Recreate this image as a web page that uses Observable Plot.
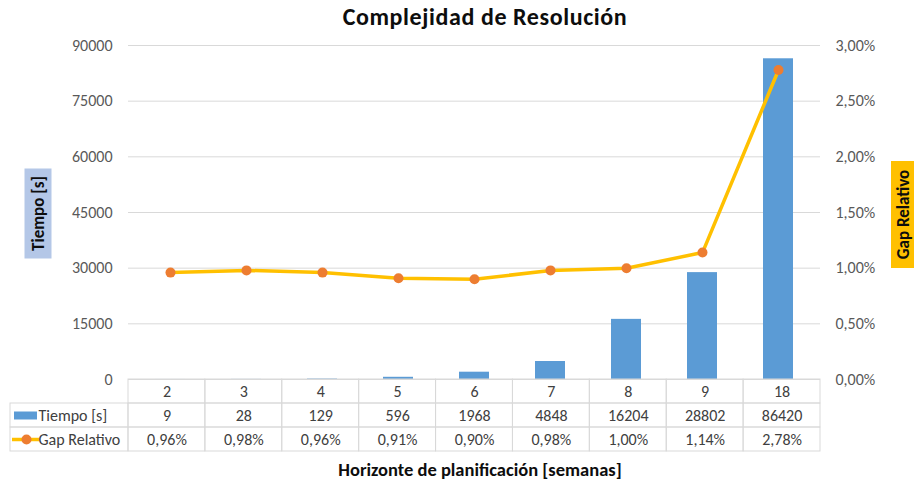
<!DOCTYPE html>
<html><head><meta charset="utf-8">
<script src="https://cdn.jsdelivr.net/npm/d3@7"></script>
<script src="https://cdn.jsdelivr.net/npm/@observablehq/plot@0.6"></script>
<style>
html,body{margin:0;padding:0;background:#fff;}
#chart{position:relative;width:914px;height:487px;font-family:Carlito,Calibri,Lato,sans-serif;overflow:hidden;background:#fff}
#chart svg{position:absolute;left:0;top:0}
.title{position:absolute;left:28px;width:914px;top:2px;text-align:center;font-weight:bold;font-size:24px;letter-spacing:0.6px;color:#0d0d0d;white-space:nowrap}
.xtitle{position:absolute;left:23px;width:914px;top:458px;text-align:center;font-weight:bold;font-size:18.5px;color:#0d0d0d;white-space:nowrap}
.ylab{position:absolute;font-weight:bold;font-size:17px;color:#0d0d0d;white-space:nowrap;transform:rotate(-90deg);transform-origin:center center;text-align:center}
</style>
</head><body>
<div id="chart">
  <div class="title">Complejidad de Resolución</div>
  <div class="xtitle">Horizonte de planificación [semanas]</div>
</div>
<script>
// ---- data ----
const semanas = ["2","3","4","5","6","7","8","9","18"];
const tiempo = [9, 28, 129, 596, 1968, 4848, 16204, 28802, 86420];
const gap = [0.0096, 0.0098, 0.0096, 0.0091, 0.0090, 0.0098, 0.0100, 0.0114, 0.0278];
const tiempoTicks = [0, 15000, 30000, 45000, 60000, 75000, 90000];
const gapTicks = [0, 0.005, 0.01, 0.015, 0.02, 0.025, 0.03];
const seriesNames = ["Tiempo [s]", "Gap Relativo"];

const rows = semanas.map((s, i) => ({semana: s, tiempo: tiempo[i], gap: gap[i], i}));

const W = 914, H = 487, ML = 128, MR = 94, MT = 45, MB = 108;
const FONT = "Carlito, Calibri, Lato, sans-serif";
const FS = 16;
const pctFmt = d => d3.format(".2%")(d).replace(".", ",");
const chart = document.getElementById("chart");

// ---- bars + left axis ----
const barPlot = Plot.plot({
  width: W, height: H, marginLeft: ML, marginRight: MR, marginTop: MT, marginBottom: MB,
  style: {background: "transparent", fontFamily: FONT, fontSize: FS + "px", color: "#595959"},
  x: {type: "band", domain: semanas, paddingInner: 0.6, paddingOuter: 0.3, axis: null},
  y: {domain: [0, 90000], axis: null},
  marks: [
    Plot.gridY(tiempoTicks, {stroke: "#D9D9D9", strokeOpacity: 1, strokeWidth: 1}),
    Plot.barY(rows, {x: "semana", y: "tiempo", fill: "#5B9BD5"}),
    Plot.axisY(tiempoTicks, {tickSize: 0, tickPadding: 16, tickFormat: d => String(d), label: null, fill: "#595959", fontSize: FS})
  ]
});
chart.appendChild(barPlot);

// ---- line + right axis ----
const linePlot = Plot.plot({
  width: W, height: H, marginLeft: ML, marginRight: MR, marginTop: MT, marginBottom: MB,
  style: {background: "transparent", fontFamily: FONT, fontSize: FS + "px", color: "#595959"},
  x: {type: "point", domain: semanas, padding: 0.5, axis: null},
  y: {domain: [0, 0.03], axis: null},
  marks: [
    Plot.line(rows, {x: "semana", y: "gap", stroke: "#FFC000", strokeWidth: 3.5, strokeLinejoin: "round"}),
    Plot.dot(rows, {x: "semana", y: "gap", r: 5, fill: "#ED7D31", stroke: "none"}),
    Plot.axisY(gapTicks, {anchor: "right", tickSize: 0, tickPadding: 15, tickFormat: pctFmt, label: null, fill: "#595959", fontSize: FS})
  ]
});
chart.appendChild(linePlot);

// ---- data table ----
const n = semanas.length;
const pxUnit = n / (W - ML - MR);          // category units per pixel
const LEG = (ML - 10) * pxUnit;            // legend column width in category units
const cells = [];
semanas.forEach((s, i) => {
  for (let r = 0; r < 3; r++) cells.push({x1: i, x2: i + 1, y1: r, y2: r + 1});
});
for (let r = 1; r < 3; r++) cells.push({x1: -LEG, x2: 0, y1: r, y2: r + 1});

const valueText = [];
rows.forEach(d => {
  valueText.push({x: d.i + 0.5, y: 0.5, t: d.semana});
  valueText.push({x: d.i + 0.5, y: 1.5, t: String(d.tiempo)});
  valueText.push({x: d.i + 0.5, y: 2.5, t: pctFmt(d.gap)});
});

const tablePlot = Plot.plot({
  width: W, height: H, marginLeft: 10, marginRight: MR, marginTop: 379, marginBottom: 36,
  style: {background: "transparent", fontFamily: FONT, fontSize: FS + "px", color: "#404040"},
  x: {type: "linear", domain: [-LEG, n], axis: null},
  y: {type: "linear", domain: [0, 3], reverse: true, axis: null},
  marks: [
    Plot.rect(cells, {x1: "x1", x2: "x2", y1: "y1", y2: "y2", fill: "none", stroke: "#D9D9D9", strokeWidth: 1}),
    Plot.text(valueText, {x: "x", y: "y", text: "t", fill: "#404040", fontSize: FS}),
    // legend keys
    Plot.ruleY([1.5], {x1: () => -LEG + 4 * pxUnit, x2: () => -LEG + 27 * pxUnit, stroke: "#5B9BD5", strokeWidth: 8}),
    Plot.ruleY([2.5], {x1: () => -LEG + 2 * pxUnit, x2: () => -LEG + 29 * pxUnit, stroke: "#FFC000", strokeWidth: 3.5}),
    Plot.dot([2.5], {x: () => -LEG + 16 * pxUnit, y: d => d, r: 5, fill: "#ED7D31"}),
    Plot.text(seriesNames, {x: () => -LEG + 28 * pxUnit, y: (d, i) => i + 1.5, text: d => d, textAnchor: "start", fill: "#404040", fontSize: FS})
  ]
});
chart.appendChild(tablePlot);

// ---- axis titles ----
function yLabel(text, bg, cx, cy, w, h) {
  const el = document.createElement("div");
  el.className = "ylab";
  el.textContent = text;
  el.style.background = bg;
  el.style.width = h + "px";
  el.style.height = w + "px";
  el.style.lineHeight = w + "px";
  el.style.left = (cx - h / 2) + "px";
  el.style.top = (cy - w / 2) + "px";
  chart.appendChild(el);
}
yLabel("Tiempo [s]", "#B4C7E7", 37.5, 213, 27, 90);
yLabel("Gap Relativo", "#FFC000", 903, 214.5, 25, 107);
</script>
</body></html>
